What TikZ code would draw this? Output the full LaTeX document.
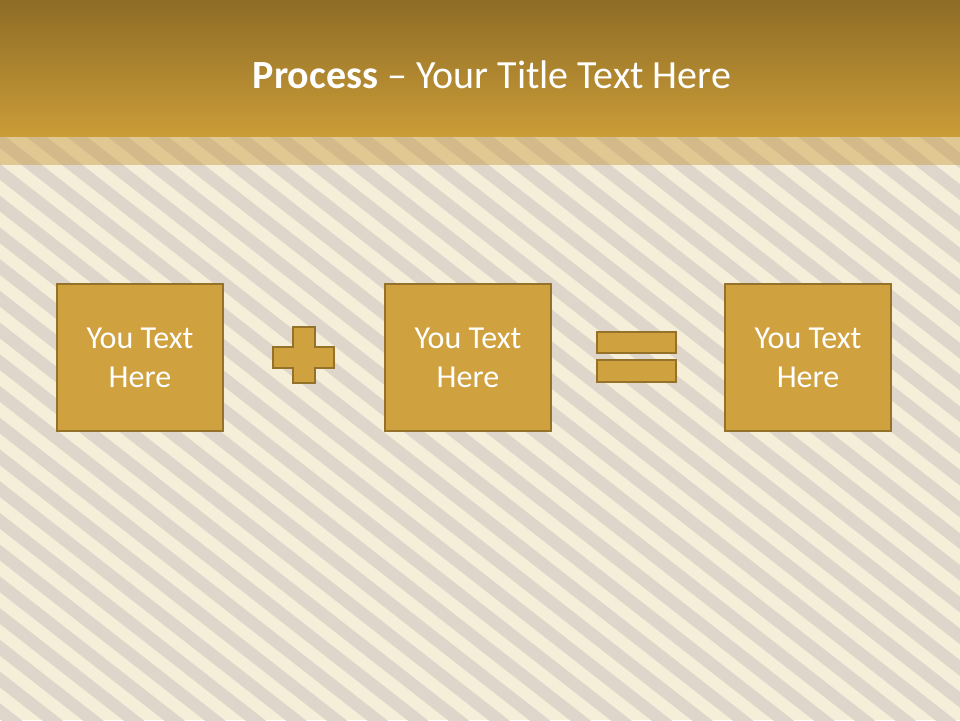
\documentclass[tikz,border=0pt]{standalone}
\usepackage{fontspec}
\setmainfont{Carlito}
\definecolor{cream}{HTML}{F5EED8}
\definecolor{stripec}{HTML}{DED6CA}
\definecolor{hdtop}{HTML}{8E6C26}
\definecolor{hdbot}{HTML}{CB9D38}
\definecolor{boxfill}{HTML}{D0A13F}
\definecolor{boxline}{HTML}{95722A}
\definecolor{bandc}{HTML}{C99A40}
\tikzset{
  procbox/.style={draw=boxline, line width=2.8pt, fill=boxfill, minimum width=166pt, minimum height=147pt, inner sep=0pt, text=white, align=center, font=\fontsize{32}{39}\selectfont},
  symb/.style={draw=boxline, line width=2.8pt, fill=boxfill},
  stripe/.style={draw=stripec, line width=12.5pt}
}
\begin{document}
\begin{tikzpicture}[x=1pt,y=1pt]
\useasboundingbox (0,0) rectangle (960,720);
\fill[cream] (0,0) rectangle (960,720);
\begin{scope}
  \clip (0,0) rectangle (960,583);
  \begin{scope}[shift={(480,300)}, rotate=-38]
    \foreach \i in {-40,...,40} {
      \draw[stripe] (-800,\i*25) -- (800,\i*25);
    }
  \end{scope}
\end{scope}
\fill[bandc, fill opacity=0.45] (0,555) rectangle (960,583);
\shade[top color=hdtop, bottom color=hdbot] (0,583) rectangle (960,720);
\node[text=white, font=\fontsize{40}{46}\selectfont] (title) at (492,645) {\textbf{Process} -- Your Title Text Here};
\node[procbox] (b1) at (140,362.5) {You Text\\Here};
\node[procbox] (b2) at (468,362.5) {You Text\\Here};
\node[procbox] (b3) at (808,362.5) {You Text\\Here};
\draw[symb] (293,393) -- (315,393) -- (315,373) -- (334,373) -- (334,352) -- (315,352) -- (315,337) -- (293,337) -- (293,352) -- (273,352) -- (273,373) -- (293,373) -- cycle;
\draw[symb] (597,367) rectangle (676,388);
\draw[symb] (597,338) rectangle (676,360);
\end{tikzpicture}
\end{document}
